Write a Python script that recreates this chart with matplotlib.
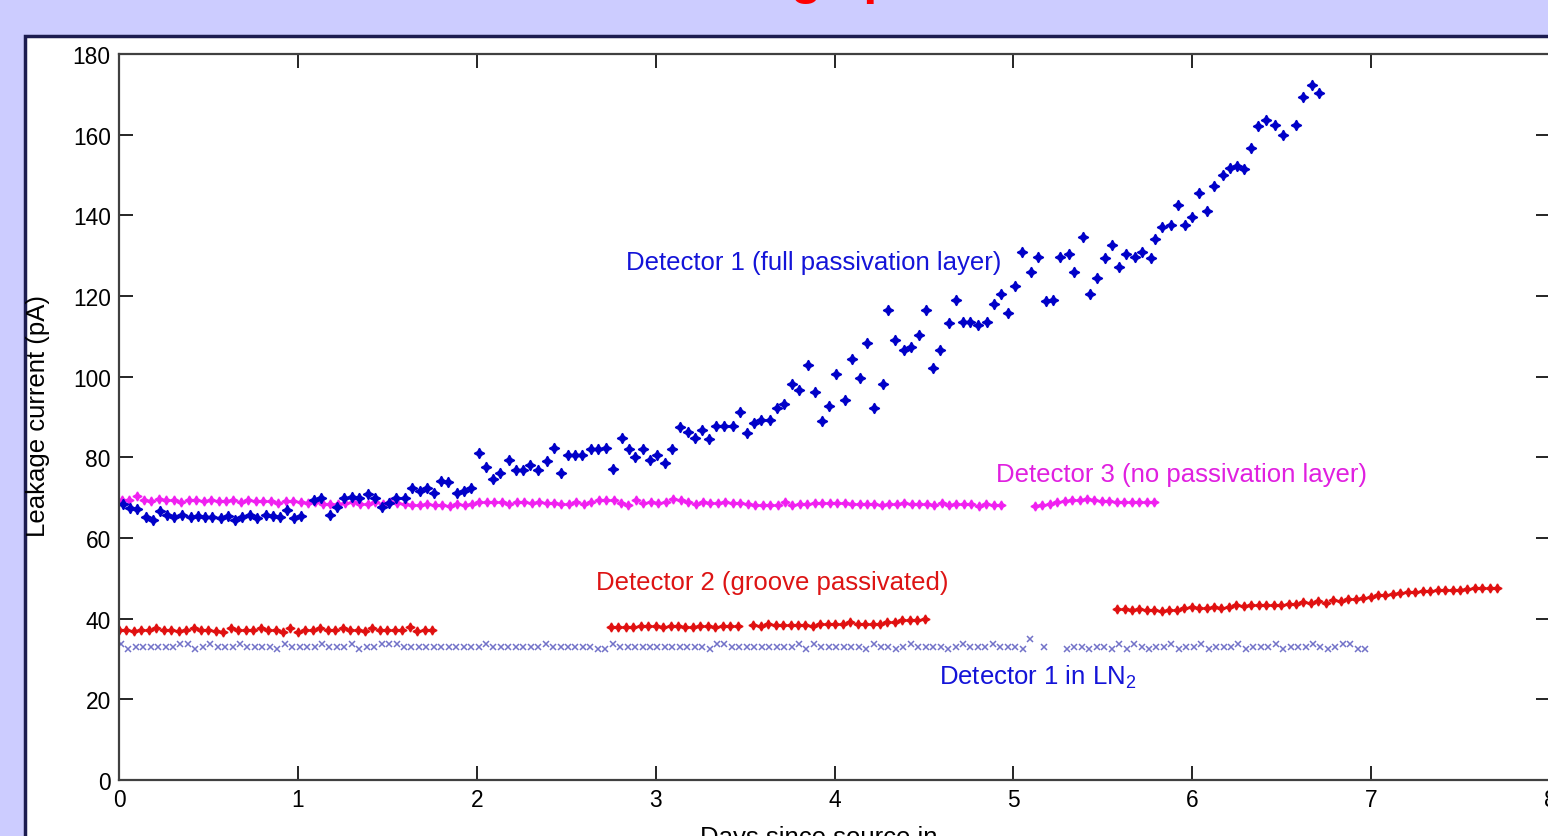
import numpy as np
import matplotlib.pyplot as plt
from matplotlib.patches import Rectangle

plt.rcParams['font.family'] = 'Liberation Sans'
plt.rcParams['mathtext.fontset'] = 'custom'
plt.rcParams['mathtext.rm'] = 'Liberation Sans'
plt.rcParams['mathtext.it'] = 'Liberation Sans:italic'

HOUR = 1 / 24  # readings were logged once an hour

# Detector 1 (full passivation layer): day, leakage current in pA
det1_days = [0.02, 0.06, 0.10, 0.15, 0.19, 0.23, 0.27, 0.31, 0.35, 0.40,
             0.44, 0.48, 0.52, 0.57, 0.61, 0.65, 0.69, 0.73, 0.77, 0.82,
             0.86, 0.90, 0.94, 0.98, 1.02, 1.09, 1.13, 1.18, 1.22, 1.26,
             1.30, 1.34, 1.39, 1.43, 1.47, 1.51, 1.55, 1.60, 1.64, 1.68,
             1.72, 1.76, 1.80, 1.84, 1.89, 1.93, 1.97, 2.01, 2.05, 2.09,
             2.13, 2.18, 2.22, 2.26, 2.30, 2.34, 2.39, 2.43, 2.47, 2.51,
             2.55, 2.59, 2.64, 2.68,
             2.72, 2.76, 2.81, 2.85, 2.885, 2.93, 2.97, 3.01, 3.055, 3.09,
             3.135, 3.18, 3.22, 3.26, 3.30, 3.34, 3.38, 3.43, 3.47, 3.51,
             3.55, 3.59, 3.64, 3.68, 3.72, 3.76, 3.80, 3.85, 3.89, 3.93,
             3.97, 4.01, 4.06, 4.10, 4.14, 4.18, 4.22, 4.27, 4.30, 4.34,
             4.39, 4.43, 4.47, 4.51, 4.55, 4.59, 4.64, 4.68, 4.72, 4.76,
             4.80, 4.85, 4.89,
             4.93, 4.97, 5.01, 5.05, 5.10, 5.14, 5.18, 5.22, 5.26, 5.31,
             5.34, 5.39, 5.43, 5.47, 5.51, 5.55, 5.59, 5.63, 5.68, 5.72,
             5.77, 5.79, 5.83, 5.88, 5.92, 5.96, 6.00, 6.04, 6.08, 6.12,
             6.17, 6.21, 6.25, 6.29, 6.33, 6.37, 6.41, 6.46, 6.51, 6.58,
             6.62, 6.67, 6.71]
det1_pa = [68.4, 67.5, 67.2, 65.1, 64.5, 66.7, 65.7, 65.1, 65.7, 65.1,
           65.4, 65.1, 65.1, 64.9, 65.4, 64.5, 65.1, 65.7, 65.0, 65.7,
           65.4, 65.1, 67.0, 64.9, 65.4, 69.3, 69.9, 65.7, 67.8, 69.9,
           70.2, 69.9, 70.8, 69.9, 67.8, 68.7, 69.9, 69.9, 72.3, 71.7,
           72.3, 71.1, 74.1, 73.8, 71.1, 71.7, 72.3, 81.0, 77.7, 74.7,
           76.2, 79.4, 76.8, 76.8, 78.0, 76.8, 79.2, 82.4, 76.2, 80.7,
           80.7, 80.7, 82.1, 82.1,
           82.4, 77.1, 84.8, 82.1, 80.0, 82.1, 79.4, 80.7, 78.5, 82.1,
           87.5, 86.3, 84.8, 86.9, 84.5, 87.8, 87.8, 87.8, 91.3, 86.0,
           88.4, 89.3, 89.3, 92.2, 93.2, 98.2, 96.7, 102.9, 96.1, 88.9,
           92.8, 100.6, 94.3, 104.5, 99.7, 108.3, 92.2, 98.2, 116.6, 109.2,
           106.5, 107.4, 110.3, 116.6, 102.1, 106.5, 113.3, 118.9, 113.6, 113.6,
           112.7, 113.6, 118.1,
           120.5, 115.7, 122.6, 130.9, 125.9, 129.7, 118.7, 119.0, 129.7, 130.3,
           125.9, 134.7, 120.5, 124.4, 129.3, 132.7, 127.3, 130.3, 129.7, 130.9,
           129.3, 134.1, 137.1, 137.7, 142.5, 137.7, 139.5, 145.5, 141.0, 147.2,
           149.9, 151.7, 152.3, 151.4, 156.8, 162.1, 163.6, 162.4, 160.0, 162.4,
           169.3, 172.2, 170.4]

# Detector 3 (no passivation layer): start day of each run, hourly readings in pA
det3_starts = [0.015, 5.12]
det3_pa = [
    [69.3, 69.4, 70.3, 69.4, 69.2, 69.7, 69.4, 69.4, 68.9, 69.4,
     69.4, 69.2, 69.4, 69.2, 69.2, 69.4, 68.9, 69.4, 69.2, 69.2,
     69.2, 68.6, 69.2, 69.2, 68.9, 68.6, 68.9, 68.4, 68.4, 68.4,
     68.6, 68.9, 68.4, 68.4, 68.9, 68.4, 68.9, 68.7, 68.4, 68.1,
     68.1, 68.4, 68.1, 68.1, 67.9, 68.4, 68.1, 68.4, 68.9, 68.9,
     68.9, 68.9, 68.4, 69.0, 69.0, 68.7, 69.0, 68.7, 68.7, 68.4,
     68.4, 69.0, 68.4, 69.0, 69.3, 69.3, 69.3, 68.7, 68.2, 69.3,
     68.7, 69.0, 68.7, 69.0, 69.7, 69.3, 69.0, 68.4, 69.0, 68.7,
     68.7, 69.0, 68.7, 68.7, 68.4, 68.2, 68.2, 68.2, 68.2, 68.9,
     68.2, 68.4, 68.4, 68.7, 68.7, 68.7, 68.7, 68.7, 68.4, 68.4,
     68.4, 68.4, 68.2, 68.4, 68.4, 68.7, 68.4, 68.4, 68.4, 68.2,
     68.7, 68.2, 68.4, 68.4, 68.4, 67.9, 68.4, 68.2, 68.2],
    [67.9, 68.2, 68.4, 68.9, 69.2, 69.4, 69.4, 69.7, 69.4, 69.2,
     69.2, 68.9, 68.9, 68.9, 68.9, 68.9, 68.9],
]

# Detector 2 (groove passivated)
det2_starts = [0.0, 2.75, 3.546, 5.58]
det2_pa = [
    [37.2, 37.2, 37.0, 37.2, 37.2, 37.6, 37.2, 37.2, 37.0, 37.2,
     37.6, 37.2, 37.2, 37.0, 36.8, 37.6, 37.2, 37.2, 37.2, 37.6,
     37.2, 37.2, 36.8, 37.6, 36.8, 37.2, 37.2, 37.6, 37.2, 37.2,
     37.6, 37.2, 37.2, 37.0, 37.6, 37.2, 37.2, 37.2, 37.2, 37.9,
     37.0, 37.2, 37.2],
    [37.9, 37.9, 37.9, 37.9, 38.3, 38.3, 38.3, 38.0, 38.3, 38.3,
     38.0, 37.9, 38.3, 38.3, 38.0, 38.3, 38.3, 38.3],
    [38.5, 38.3, 38.8, 38.5, 38.5, 38.5, 38.5, 38.5, 38.3, 38.8,
     38.8, 38.8, 38.8, 39.1, 38.8, 38.8, 38.8, 38.8, 39.1, 39.1,
     39.7, 39.7, 39.7, 39.9],
    [42.3, 42.3, 42.2, 42.3, 42.1, 42.1, 42.0, 42.1, 42.2, 42.6,
     43.0, 42.6, 42.7, 42.8, 42.7, 42.8, 43.4, 43.1, 43.3, 43.3,
     43.4, 43.4, 43.4, 43.6, 43.7, 44.2, 43.8, 44.3, 44.0, 44.6,
     44.3, 44.8, 45.0, 45.1, 45.4, 45.8, 45.9, 46.1, 46.3, 46.6,
     46.7, 46.8, 46.9, 47.0, 47.2, 47.1, 47.2, 47.4, 47.5, 47.6,
     47.6, 47.7],
]

# Detector 1 in LN2
ln2_starts = [0.01, 5.17, 5.30]
ln2_pa = [
    [33.8, 32.4, 33.0, 33.0, 33.0, 33.0, 33.0, 33.0, 33.8, 33.8,
     32.4, 33.0, 33.8, 33.0, 33.0, 33.0, 33.8, 33.0, 33.0, 33.0,
     33.0, 32.4, 33.8, 33.0, 33.0, 33.0, 33.0, 33.8, 33.0, 33.0,
     33.0, 33.8, 32.4, 33.0, 33.0, 33.8, 33.8, 33.8, 33.0, 33.0,
     33.0, 33.0, 33.0, 33.0, 33.0, 33.0, 33.0, 33.0, 33.0, 33.8,
     33.0, 33.0, 33.0, 33.0, 33.0, 33.0, 33.0, 33.8, 33.0, 33.0,
     33.0, 33.0, 33.0, 33.0, 32.4, 32.4, 33.8, 33.0, 33.0, 33.0,
     33.0, 33.0, 33.0, 33.0, 33.0, 33.0, 33.0, 33.0, 33.0, 32.4,
     33.8, 33.8, 33.0, 33.0, 33.0, 33.0, 33.0, 33.0, 33.0, 33.0,
     33.0, 33.8, 32.4, 33.8, 33.0, 33.0, 33.0, 33.0, 33.0, 33.0,
     32.4, 33.8, 33.0, 33.0, 32.4, 33.0, 33.8, 33.0, 33.0, 33.0,
     33.0, 32.4, 33.0, 33.8, 33.0, 33.0, 33.0, 33.8, 33.0, 33.0,
     33.0, 32.4, 35.0],
    [33.0],
    [32.6, 33.0, 33.0, 32.4, 33.0, 33.0, 32.4, 33.8, 32.4, 33.8,
     33.0, 32.4, 33.0, 33.0, 33.8, 32.4, 33.0, 33.0, 33.8, 32.4,
     33.0, 33.0, 33.0, 33.8, 32.4, 33.0, 33.0, 33.0, 33.8, 32.4,
     33.0, 33.0, 33.0, 33.8, 33.0, 32.4, 33.0, 33.8, 33.8, 32.4,
     32.6],
]

y_ticks = [0, 20, 40, 60, 80, 100, 120, 140, 160, 180]
x_ticks = [0, 1, 2, 3, 4, 5, 6, 7, 8]

BLUE = '#0000c8'
MAGENTA = '#f020f0'
RED = '#e01010'
SLATE = '#7272c8'
STAR = (4, 1, 0)


def hourly(start, values):
    return start + HOUR * np.arange(len(values))


fig = plt.figure(figsize=(15.48, 8.37), dpi=100, facecolor='#ccccff')
fig.add_artist(Rectangle((25 / 1548, -0.05), 1.0, (837 - 37) / 837 + 0.05,
                         transform=fig.transFigure, facecolor='white',
                         edgecolor='#1c1c50', lw=2.5, zorder=0))

# slide title, only its descenders fall inside the crop
fig.text(649 / 1548, (837 + 6) / 837, 'Leakage performance', color='red',
         fontsize=36, fontweight='bold', ha='left', va='baseline')

ax = fig.add_axes([119 / 1548, 56 / 837, 1431 / 1548, 726 / 837])

for start, vals in zip(ln2_starts, ln2_pa):
    ax.plot(hourly(start, vals), vals, 'x', color=SLATE, ms=5, mew=1.1)
for start, vals in zip(det2_starts, det2_pa):
    ax.plot(hourly(start, vals), vals, ls='none', marker=STAR, color=RED, ms=6.5)
for start, vals in zip(det3_starts, det3_pa):
    ax.plot(hourly(start, vals), vals, ls='none', marker=STAR, color=MAGENTA, ms=6.5)
ax.plot(det1_days, det1_pa, ls='none', marker=STAR, color=BLUE, ms=7.5)

ax.text(2.833, 128.4, 'Detector 1 (full passivation layer)', color='#1414d8',
        fontsize=18.5, va='center')
ax.text(4.905, 75.9, 'Detector 3 (no passivation layer)', color='#e020e0',
        fontsize=18.5, va='center')
ax.text(2.665, 49.1, 'Detector 2 (groove passivated)', color='#dd1414',
        fontsize=18.5, va='center')
ax.text(4.586, 25.8, 'Detector 1 in LN$_2$', color='#1414d8',
        fontsize=18.5, va='center')

ax.set_xlim(0, 8)
ax.set_ylim(0, 180)
ax.set_xticks(x_ticks)
ax.set_yticks(y_ticks)
ax.tick_params(direction='in', length=10, width=1.2, top=True, right=True,
               labelsize=16.4, pad=6)
for side in ax.spines.values():
    side.set_color('#404040')
    side.set_linewidth(1.6)

ax.set_xlabel('Days since source in', fontsize=18.5)
ax.xaxis.set_label_coords((819 - 119) / 1431, (781 - 826) / 726)
ax.set_ylabel('Leakage current (pA)', fontsize=18.5)
ax.yaxis.set_label_coords((50 - 119) / 1431, (781 - 416) / 726)

fig.savefig('out.png', dpi=100, facecolor=fig.get_facecolor())
